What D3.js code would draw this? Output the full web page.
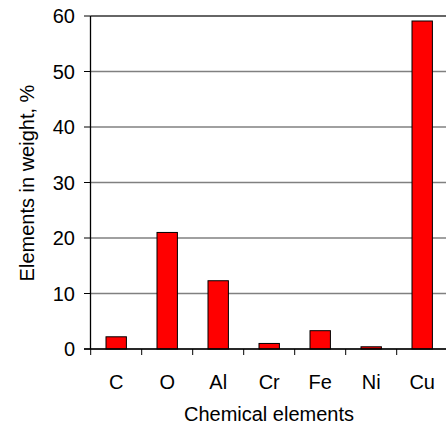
<!DOCTYPE html><html><head><script src="https://cdn.jsdelivr.net/npm/d3@7"></script>
<style>body{margin:0;background:#fff}text{font-family:"Liberation Sans",Arial,sans-serif;fill:#000}</style></head><body>
<svg id="c" width="446" height="431"></svg>
<script>
const categories=["C","O","Al","Cr","Fe","Ni","Cu"];
const values=[2.2,21,12.3,1,3.3,0.4,59.1];
const yTicks=[0,10,20,30,40,50,60];
const svg=d3.select("#c");
const x=d3.scaleBand().domain(categories).range([90.7,447.7]).paddingInner(0).paddingOuter(0);
const y=d3.scaleLinear().domain([0,60]).range([349,16]);
const g=svg.append("g");
g.selectAll("line.grid").data(yTicks).join("line").attr("x1",90.5).attr("x2",446)
 .attr("y1",d=>y(d)).attr("y2",d=>y(d)).attr("stroke",d=>d==60?"#333":"#808080").attr("stroke-width",1.5);
g.selectAll("rect").data(values).join("rect")
 .attr("x",(d,i)=>x(categories[i])+x.bandwidth()*0.3).attr("width",x.bandwidth()*0.4)
 .attr("y",d=>y(d)).attr("height",d=>y(0)-y(d)).attr("fill","#ff0000").attr("stroke","#000").attr("stroke-width",1);
g.append("line").attr("x1",90.5).attr("x2",90.5).attr("y1",16).attr("y2",349).attr("stroke","#000").attr("stroke-width",1.3);
g.append("line").attr("x1",84).attr("x2",446).attr("y1",349).attr("y2",349).attr("stroke","#000").attr("stroke-width",1.3);
g.selectAll("line.yt").data(yTicks).join("line").attr("x1",84).attr("x2",90.5).attr("y1",d=>y(d)).attr("y2",d=>y(d)).attr("stroke","#000");
g.selectAll("line.xt").data(categories).join("line").attr("x1",d=>x(d)).attr("x2",d=>x(d)).attr("y1",349).attr("y2",355).attr("stroke","#000");
g.selectAll("text.yl").data(yTicks).join("text").attr("x",75).attr("y",d=>y(d)+7).attr("text-anchor","end").attr("font-size",20).text(d=>d);
g.selectAll("text.xl").data(categories).join("text").attr("x",d=>x(d)+x.bandwidth()/2).attr("y",389).attr("text-anchor","middle").attr("font-size",20).text(d=>d);
svg.append("text").attr("x",269).attr("y",421).attr("text-anchor","middle").attr("font-size",20).text("Chemical elements");
svg.append("text").attr("transform","translate(34,183) rotate(-90)").attr("text-anchor","middle").attr("font-size",20).text("Elements in weight, %");
</script></body></html>
